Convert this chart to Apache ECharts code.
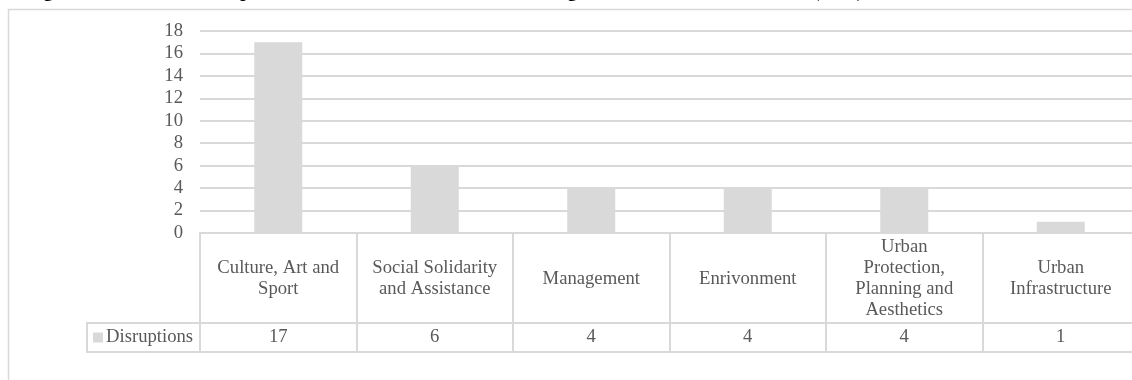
<html>
<head>
<meta charset="utf-8"/>
<title>Disruptions</title>
<script src="https://cdn.jsdelivr.net/npm/echarts@6/dist/echarts.min.js"></script>
</head>
<body style="margin:0">
<div id="main" style="width:1132px;height:380px;"></div>
<script type="text/javascript">
// data
var categories = ['Culture, Art and Sport', 'Social Solidarity and Assistance', 'Management', 'Enrivonment', 'Urban Protection, Planning and Aesthetics', 'Urban Infrastructure'];
var categoryLabels = ['Culture, Art and\nSport', 'Social Solidarity\nand Assistance', 'Management', 'Enrivonment', 'Urban\nProtection,\nPlanning and\nAesthetics', 'Urban\nInfrastructure'];
var disruptions = [17, 6, 4, 4, 4, 1];
var seriesName = 'Disruptions';

var serif = "'Liberation Serif', 'Times New Roman', serif";
var grey = '#595959';
var lineGrey = '#d9d9d9';
var fs = 18.67;

var myChart = echarts.init(document.getElementById('main'));
var option = {
    animation: false,
    // title is cut off at the top of the picture, only its lower edge shows
    title: {
        text: 'Figure 4: Number of Disruptions across Areas of Intervention during the First Months of the Trial (2019)',
        left: 22,
        top: -23,
        textStyle: { fontFamily: serif, fontSize: 18.67, fontWeight: 'bold', color: '#000', lineHeight: 21 }
    },
    graphic: [
        // chart area border
        { type: 'rect', shape: { x: 8.5, y: 9.5, width: 1200, height: 400 }, style: { fill: null, stroke: lineGrey, lineWidth: 1.5 }, silent: true },
        // row header cell of the data table
        { type: 'rect', shape: { x: 87, y: 323, width: 113, height: 29 }, style: { fill: null, stroke: lineGrey, lineWidth: 2 }, silent: true }
    ],
    legend: {
        data: [seriesName],
        left: 93,
        top: 327,
        padding: 0,
        icon: 'rect',
        itemWidth: 10,
        itemHeight: 10,
        itemGap: 5,
        textStyle: { fontFamily: serif, fontSize: fs, color: grey, lineHeight: 21, padding: [0, 0, 0, -2] }
    },
    grid: { left: 200, width: 939, top: 31, bottom: 147, outerBoundsMode: 'none', containLabel: false },
    xAxis: [{
        type: 'category',
        data: categories,
        position: 'bottom',
        axisLine: { show: true, lineStyle: { color: lineGrey, width: 2 } },
        axisTick: { show: true, length: 119, lineStyle: { color: lineGrey, width: 2 } },
        axisLabel: {
            interval: 0,
            margin: 46,
            verticalAlign: 'middle',
            fontFamily: serif,
            fontSize: fs,
            lineHeight: 21,
            color: grey,
            formatter: function (v, i) { return categoryLabels[i]; }
        }
    }, {
        type: 'category',
        data: categories,
        position: 'bottom',
        offset: 90,
        axisLine: { show: true, lineStyle: { color: lineGrey, width: 2 } },
        axisTick: { show: false },
        axisLabel: {
            interval: 0,
            margin: 14,
            verticalAlign: 'middle',
            fontFamily: serif,
            fontSize: fs,
            color: grey,
            formatter: function (v, i) { return String(disruptions[i]); }
        }
    }, {
        type: 'category',
        data: categories,
        position: 'bottom',
        offset: 119,
        axisLine: { show: true, lineStyle: { color: lineGrey, width: 2 } },
        axisTick: { show: false },
        axisLabel: { show: false }
    }],
    yAxis: {
        type: 'value',
        min: 0,
        max: 18,
        interval: 2,
        axisLine: { show: false },
        axisTick: { show: false },
        axisLabel: { margin: 17, fontFamily: serif, fontSize: fs, color: grey },
        splitLine: { lineStyle: { color: lineGrey, width: 2 } }
    },
    series: [{
        name: seriesName,
        type: 'bar',
        data: disruptions,
        barWidth: 48,
        itemStyle: { color: lineGrey }
    }]
};
myChart.setOption(option);
</script>
</body>
</html>
